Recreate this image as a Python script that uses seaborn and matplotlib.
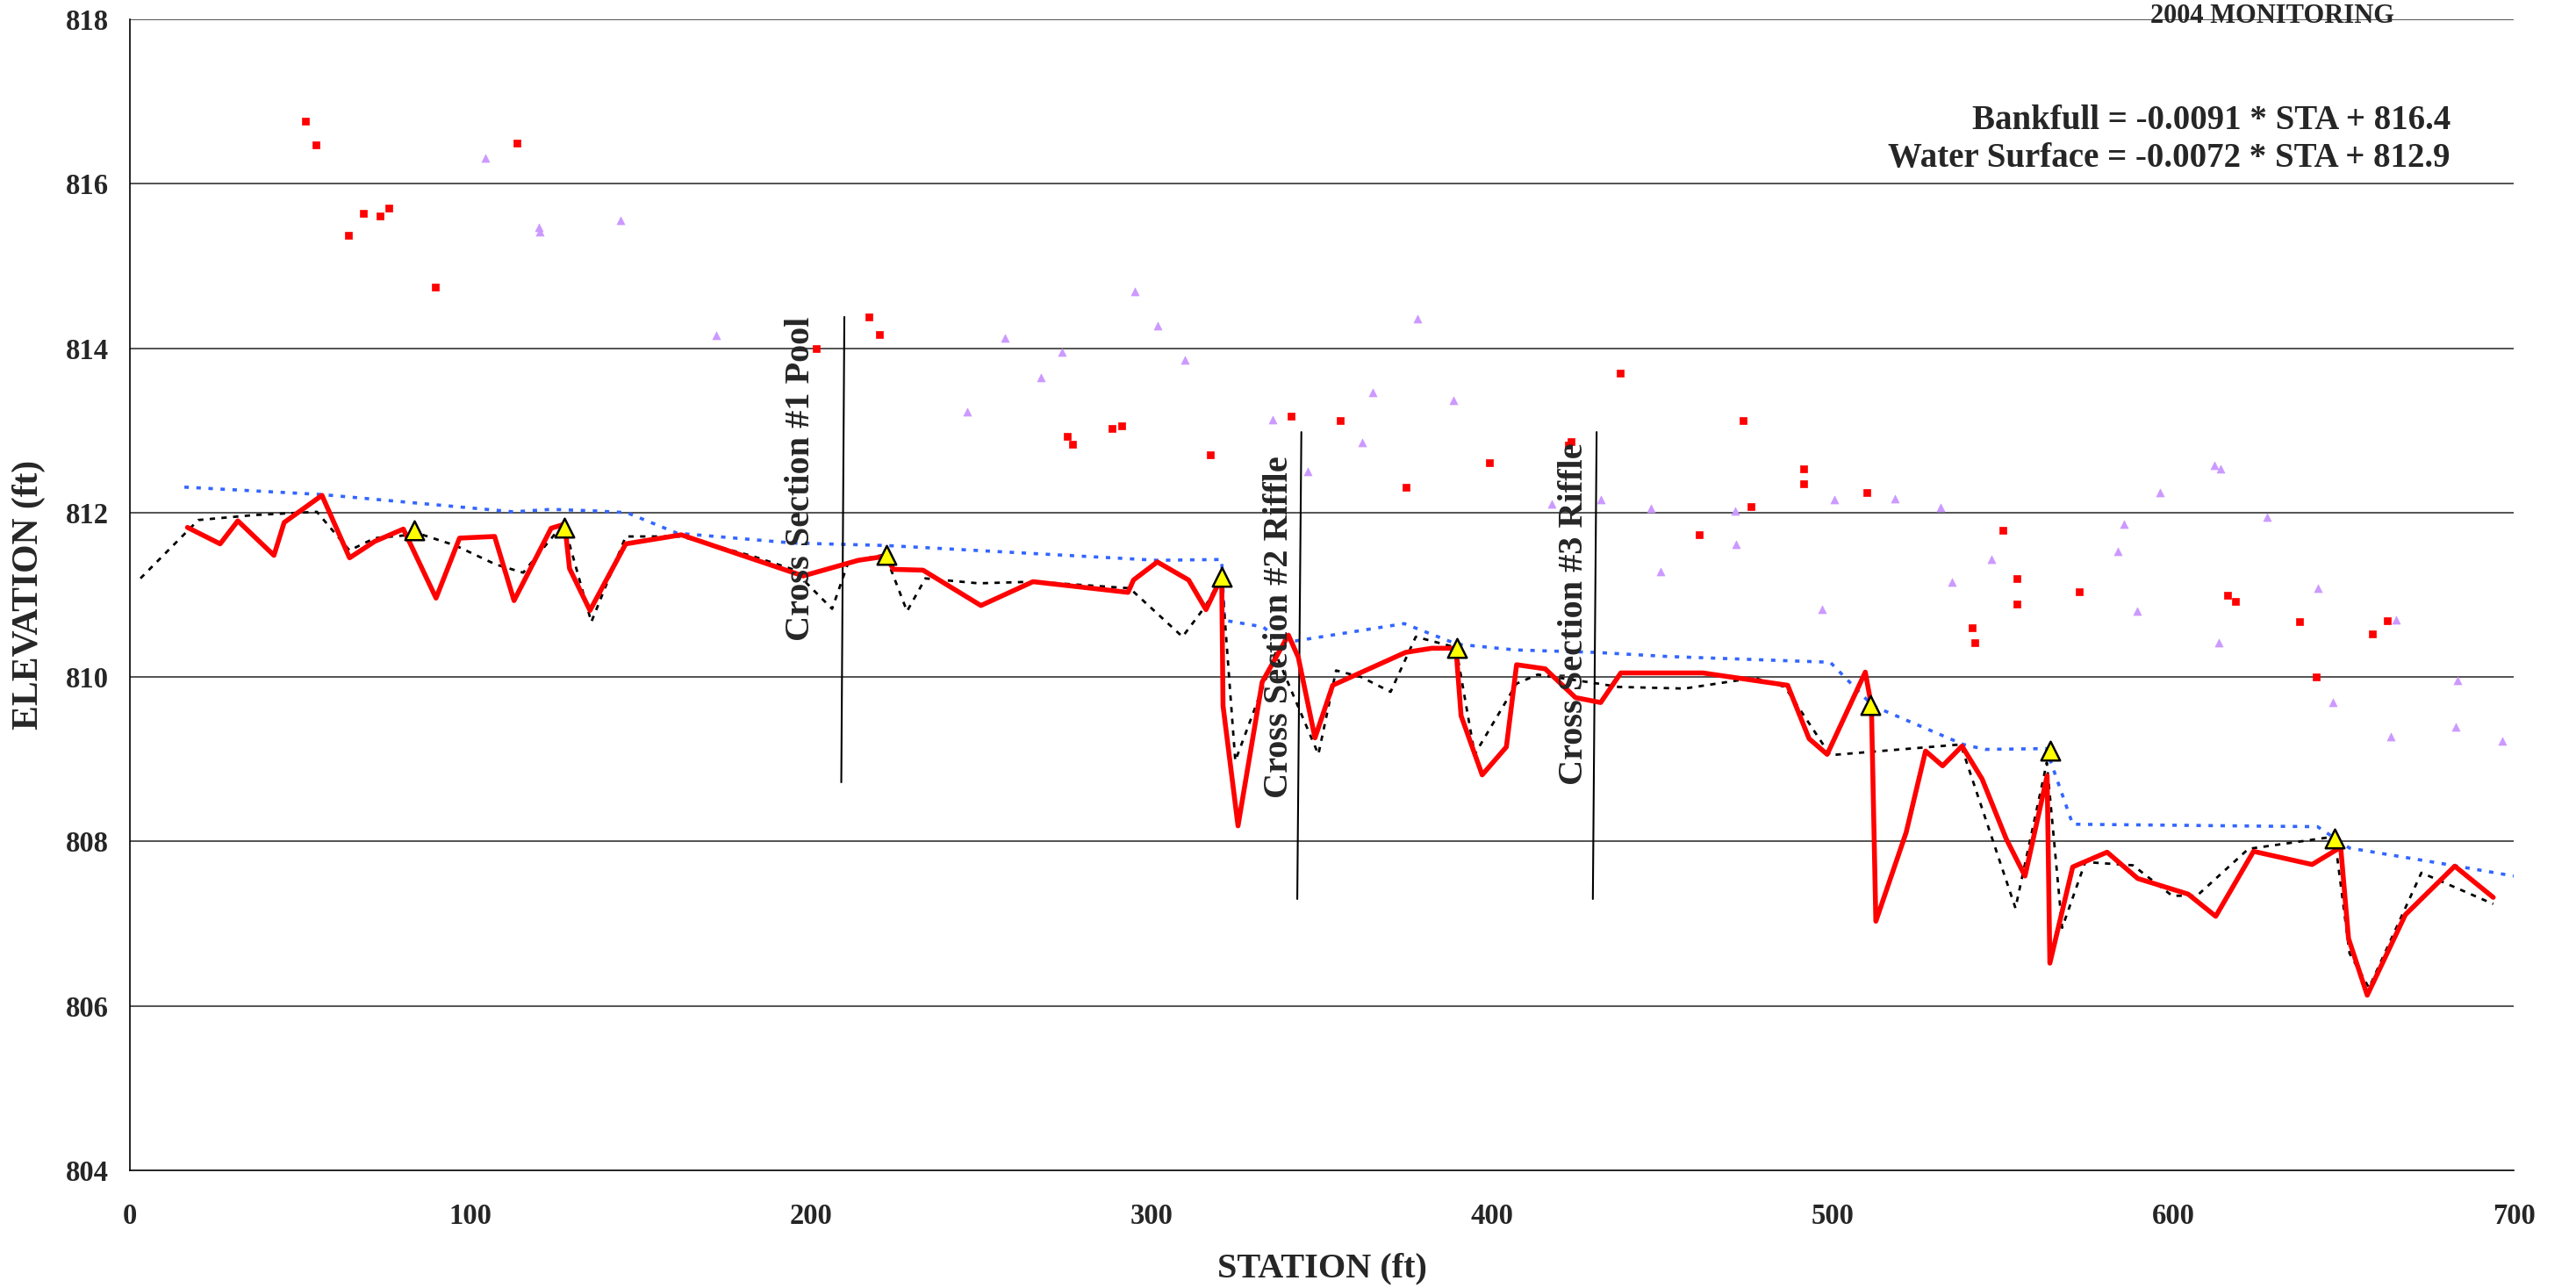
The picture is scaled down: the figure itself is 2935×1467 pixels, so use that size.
#!/usr/bin/env python3
"""
Longitudinal profile - 2004 monitoring.
Thalweg, water surface and bank points along the stream station.
"""

import pandas as pd
import numpy as np
import matplotlib
matplotlib.use('Agg')
import matplotlib.pyplot as plt
import seaborn as sns

sns.set_style("white")
plt.rcParams['font.family'] = ['Liberation Serif', 'DejaVu Serif']
plt.rcParams['font.weight'] = 'bold'

# 2004 thalweg (red line)
thalweg_sta = [16.9, 26.5, 31.7, 42.3, 45.3, 56.4, 64.5, 71.9, 80.3, 89.9, 96.8, 107.1,
               112.8, 123.7, 127.7, 129.1, 135.1, 145.6, 161.9, 197.7, 213.9, 222.1, 224.2,
               232.9, 249.9, 265.2, 293.1, 294.7, 301.7, 310.9, 316.0, 320.6, 321.0, 325.4,
               332.5, 340.2, 343.1, 348.0, 353.2, 374.6, 382.3, 389.4, 390.9, 397.1, 404.2,
               407.2, 415.6, 424.5, 431.9, 437.8, 461.9, 486.8, 493.1, 498.4, 509.6, 511.4,
               512.7, 521.6, 527.3, 532.3, 538.0, 543.9, 551.0, 556.5, 563.0, 563.8, 570.5,
               580.6, 589.6, 604.4, 612.5, 623.6, 640.8, 649.2, 651.5, 657.0, 668.2, 682.7,
               694.0]
thalweg_elev = [811.82, 811.62, 811.90, 811.48, 811.88, 812.21, 811.45, 811.65, 811.80, 810.96,
                811.69, 811.71, 810.93, 811.81, 811.86, 811.32, 810.81, 811.62, 811.73, 811.23,
                811.42, 811.47, 811.31, 811.30, 810.87, 811.16, 811.03, 811.18, 811.40, 811.18,
                810.82, 811.22, 809.65, 808.19, 809.94, 810.51, 810.24, 809.26, 809.90, 810.30,
                810.35, 810.35, 809.53, 808.81, 809.15, 810.15, 810.10, 809.75, 809.69, 810.05,
                810.05, 809.90, 809.25, 809.06, 810.06, 809.65, 807.03, 808.11, 809.10, 808.92,
                809.16, 808.76, 808.03, 807.58, 808.80, 806.52, 807.69, 807.87, 807.55, 807.36,
                807.09, 807.88, 807.72, 807.93, 806.82, 806.13, 807.11, 807.70, 807.32]

# previous thalweg (black dashed)
prev_sta = [3.1, 20.1, 36.4, 54.9, 64.5, 71.9, 85.2, 95.6, 107.4, 115.5, 125.2, 127.7, 135.5,
            145.6, 161.9, 182.9, 194.7, 206.2, 211.0, 221.8, 228.2, 233.6, 249.2, 265.5,
            293.6, 309.1, 315.8, 320.6, 324.6, 336.4, 349.0, 354.2, 361.6, 370.2, 377.6,
            389.4, 394.9, 407.2, 413.4, 431.2, 437.1, 456.5, 477.0, 486.0, 499.3, 537.6,
            553.7, 562.9, 567.4, 574.2, 588.2, 599.7, 607.0, 622.1, 647.4, 651.8, 657.5,
            672.9, 694.0]
prev_elev = [811.20, 811.91, 811.97, 812.01, 811.54, 811.69, 811.74, 811.60, 811.37, 811.27,
             811.76, 811.82, 810.67, 811.71, 811.71, 811.47, 811.31, 810.83, 811.40, 811.49,
             810.80, 811.20, 811.14, 811.16, 811.08, 810.49, 810.86, 811.22, 808.98, 810.29,
             809.06, 810.08, 810.00, 809.82, 810.49, 810.36, 809.06, 809.92, 810.03, 809.92,
             809.88, 809.86, 809.99, 809.88, 809.05, 809.18, 807.19, 808.96, 806.95, 807.75,
             807.71, 807.34, 807.34, 807.91, 808.06, 806.64, 806.22, 807.62, 807.24]

# water surface (blue dotted)
ws_sta = [16.0, 56.4, 112.6, 123.7, 137.0, 145.9, 160.7, 194.7, 222.1, 301.7, 320.6, 321.4,
          332.8, 337.2, 342.4, 374.2, 389.7, 406.8, 430.4, 451.6, 499.3, 511.8, 538.4, 544.8,
          562.7, 570.5, 642.4, 651.8, 682.0, 700.0]
ws_elev = [812.31, 812.22, 812.01, 812.04, 812.02, 812.00, 811.75, 811.63, 811.60, 811.42,
           811.43, 810.69, 810.61, 810.45, 810.44, 810.65, 810.40, 810.33, 810.30, 810.25,
           810.18, 809.65, 809.18, 809.12, 809.13, 808.21, 808.18, 807.92, 807.71, 807.58]

# water surface shots (yellow triangles)
shot_sta = [83.4, 127.7, 222.1, 320.6, 389.7, 511.2, 563.8, 647.4]
shot_elev = [811.78, 811.82, 811.49, 811.22, 810.35, 809.66, 809.10, 808.04]

# bank points (red squares)
bank_a_sta = [51.6, 54.6, 64.1, 68.5, 73.5, 76.0, 89.6, 113.6, 201.6, 217.1, 220.0, 275.3,
              276.9, 288.4, 291.2, 317.2, 341.1, 355.3, 374.8, 399.2, 422.3, 423.2, 437.7,
              460.8, 473.8, 476.1, 491.4, 491.6, 510.0, 541.0, 541.8, 549.9, 554.2, 554.2,
              572.4, 616.1, 618.3, 637.2, 642.0, 658.6, 662.9]
bank_a_elev = [816.76, 816.47, 815.37, 815.64, 815.61, 815.70, 814.74, 816.49, 814.00, 814.38,
               814.17, 812.93, 812.83, 813.02, 813.06, 812.70, 813.17, 813.12, 812.31, 812.61,
               812.82, 812.86, 813.70, 811.73, 813.12, 812.07, 812.53, 812.35, 812.24, 810.60,
               810.42, 811.78, 811.20, 810.89, 811.04, 810.99, 810.92, 810.67, 810.00, 810.53,
               810.69]

# bank points (purple triangles)
bank_b_sta = [104.4, 120.2, 120.4, 144.0, 172.1, 246.0, 256.9, 267.4, 273.8, 295.2, 301.9,
              309.9, 335.5, 345.8, 361.9, 365.0, 378.2, 388.7, 417.4, 431.9, 446.7, 449.4,
              471.5, 471.6, 497.0, 500.4, 518.4, 531.8, 535.1, 546.7, 583.8, 585.6, 589.4,
              596.2, 612.0, 613.4, 613.8, 627.6, 642.5, 646.8, 663.8, 665.5, 683.0, 683.6,
              696.7]
bank_b_elev = [816.31, 815.47, 815.42, 815.55, 814.16, 813.23, 814.12, 813.64, 813.95, 814.69,
               814.27, 813.86, 813.13, 812.50, 812.85, 813.46, 814.36, 813.37, 812.10, 812.16,
               812.05, 811.28, 812.02, 811.61, 810.82, 812.16, 812.17, 812.06, 811.15, 811.43,
               811.53, 811.86, 810.80, 812.24, 812.58, 810.42, 812.53, 811.94, 811.08, 809.69,
               809.28, 810.70, 809.39, 809.96, 809.22]

# cross section markers
xs_labels = ['Cross Section #1 Pool', 'Cross Section #2 Riffle', 'Cross Section #3 Riffle']
xs_top_sta = [209.8, 344.0, 430.7]
xs_bot_sta = [208.9, 342.8, 429.6]
xs_top_elev = [814.38, 812.98, 812.98]
xs_bot_elev = [808.72, 807.30, 807.30]
xs_text_sta = [197.1, 337.6, 424.1]
xs_text_elev = [810.44, 808.53, 808.69]

eq_lines = ['Bankfull = -0.0091 * STA + 816.4', 'Water Surface = -0.0072 * STA + 812.9']

W, H = 2935, 1467
fig = plt.figure(figsize=(W / 100, H / 100), dpi=100)
ax = fig.add_axes([148 / W, 1 - 1333 / H, (2864 - 148) / W, (1333 - 22) / H])

# gridlines
for yv in range(806, 819, 2):
    ax.axhline(yv, color='#454545', lw=1.3, zorder=0)

# lines
sns.lineplot(x=ws_sta, y=ws_elev, sort=False, estimator=None, ax=ax, color='#3366ff',
             lw=2.6, linestyle=(0, (1.4, 2.4)), zorder=2)
sns.lineplot(x=prev_sta, y=prev_elev, sort=False, estimator=None, ax=ax, color='black',
             lw=2.0, linestyle=(0, (2.2, 2.6)), zorder=3)
sns.lineplot(x=thalweg_sta, y=thalweg_elev, sort=False, estimator=None, ax=ax, color='#ff0000',
             lw=4.0, zorder=4)

# points
sns.scatterplot(x=bank_a_sta, y=bank_a_elev, marker='s', s=32, color='#ff0000',
                edgecolor='#ff0000', linewidth=0.5, ax=ax, zorder=5)
sns.scatterplot(x=bank_b_sta, y=bank_b_elev, marker='^', s=42, color='#cc99ff',
                edgecolor='#cc99ff', linewidth=0.5, ax=ax, zorder=5)
sns.scatterplot(x=shot_sta, y=shot_elev, marker='^', s=240, color='#ffff00',
                edgecolor='black', linewidth=1.8, ax=ax, zorder=6)

# cross section lines and labels
for lab, x0, x1, y0, y1, tx, ty in zip(xs_labels, xs_top_sta, xs_bot_sta, xs_top_elev,
                                       xs_bot_elev, xs_text_sta, xs_text_elev):
    ax.plot([x0, x1], [y0, y1], color='black', lw=1.5, zorder=3)
    ax.text(tx, ty, lab, rotation=90, ha='center', va='bottom', fontsize=29,
            fontweight='bold', zorder=7)

# equations and title
ax.text(681.4, 816.665, eq_lines[0], ha='right', va='baseline', fontsize=28, fontweight='bold')
ax.text(681.4, 816.206, eq_lines[1], ha='right', va='baseline', fontsize=28, fontweight='bold')
fig.text(2589.5 / W, 1 - 26 / H, '2004 MONITORING', ha='center', va='baseline',
         fontsize=22, fontweight='bold', zorder=10)

# axes
ax.set_xlim(0, 700)
ax.set_ylim(804, 818)
ax.set_xticks(range(0, 701, 100))
ax.set_xticks(range(50, 701, 100), minor=True)
ax.set_yticks(range(804, 819, 2))
ax.tick_params(axis='x', which='major', direction='inout', length=13, width=1.2,
               labelsize=23.5, pad=20)
ax.tick_params(axis='x', which='minor', direction='in', length=6.5, width=1.2)
ax.tick_params(axis='y', which='major', direction='out', length=6.5, width=1.2,
               labelsize=23.5, pad=11)
ax.set_xlabel('STATION (ft)', fontsize=29, fontweight='bold')
ax.set_ylabel('ELEVATION (ft)', fontsize=30, fontweight='bold')
ax.xaxis.set_label_coords(0.5, -0.071)
ax.xaxis.label.set_va('top')
ax.yaxis.set_label_coords(-0.0353, 0.5)
ax.yaxis.label.set_va('bottom')

for side in ['top', 'right']:
    ax.spines[side].set_visible(False)
for side in ['left', 'bottom']:
    ax.spines[side].set_color('black')
    ax.spines[side].set_linewidth(1.2)

plt.savefig('out.png', dpi=100)
plt.close()
